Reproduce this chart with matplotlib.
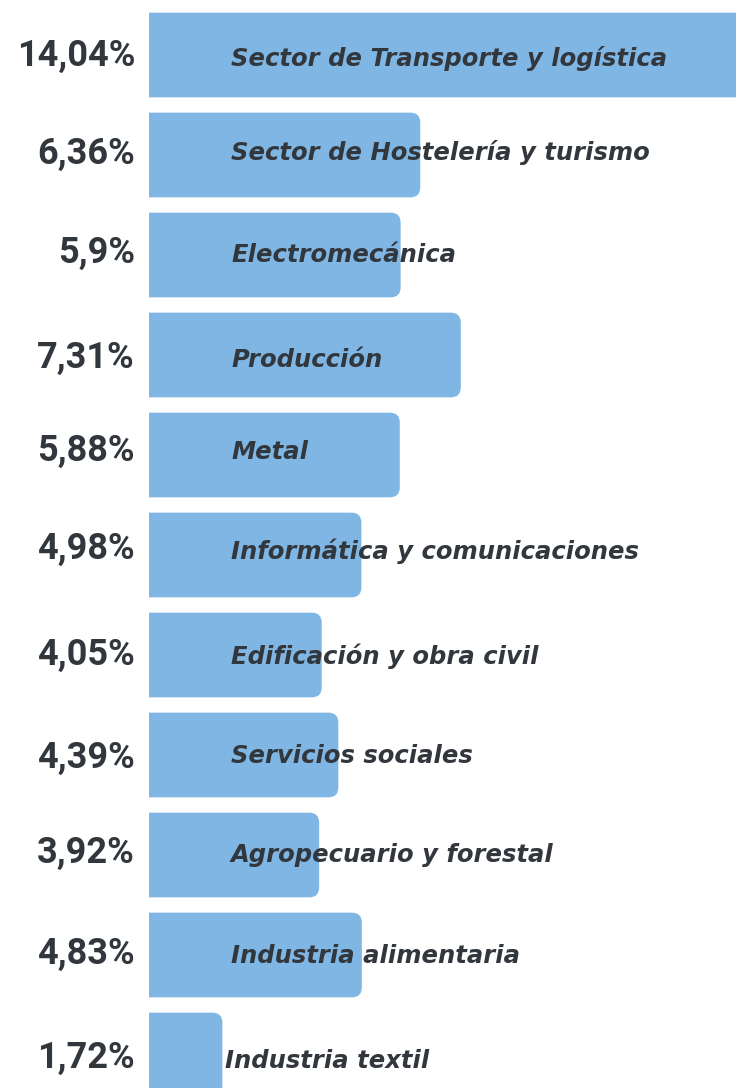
import matplotlib
matplotlib.use("Agg")
import matplotlib.pyplot as plt
from matplotlib.patches import FancyBboxPatch, Rectangle

# datos
sectores = [
    "Sector de Transporte y logística",
    "Sector de Hostelería y turismo",
    "Electromecánica",
    "Producción",
    "Metal",
    "Informática y comunicaciones",
    "Edificación y obra civil",
    "Servicios sociales",
    "Agropecuario y forestal",
    "Industria alimentaria",
    "Industria textil",
]
etiquetas = ["14,04%", "6,36%", "5,9%", "7,31%", "5,88%", "4,98%",
             "4,05%", "4,39%", "3,92%", "4,83%", "1,72%"]
# largo de cada barra tal como se ve en el grafico (no siempre igual a la etiqueta)
largos = [14.04, 6.36, 5.9, 7.31, 5.88, 4.98, 4.05, 4.44, 3.99, 4.99, 1.72]

# pequeños desfases verticales de los textos (px, linea base bajo el centro de la barra)
base_pct = [11, 9, 7.7, 13, 6, 4.3, 10, 12.7, 8.3, 9, 13.3]
base_txt = [11, 5, 7.3, 11.7, 4, 3.7, 9, 8.3, 7.3, 8.3, 13.3]

azul = "#7fb6e3"
gris = "#32373d"

fig = plt.figure(figsize=(7.36, 10.88), dpi=100)
ax = fig.add_axes([0, 0, 1, 1])
ax.set_axis_off()

# 42.65 px por punto porcentual, barras empiezan en x=149 px
esc = 42.65
ax.set_xlim(-149 / esc, (736 - 149) / esc)
ax.set_ylim((1088 - 55) / 100, -55 / 100)

pos = list(range(len(largos)))
bars = ax.barh(pos, largos, height=0.847, color="none")

rx = 10 / esc
ry = 10 / 100
for b in bars:
    x0, y0 = b.get_x(), b.get_y()
    w, h = b.get_width(), b.get_height()
    # caja redondeada que empieza antes de 0 y se recorta: esquinas rectas a la izquierda
    p = FancyBboxPatch((x0 - 2 * rx, y0), w + 2 * rx, h,
                       boxstyle=f"round,pad=0,rounding_size={rx}",
                       mutation_aspect=ry / rx,
                       facecolor=azul, edgecolor="none")
    ax.add_patch(p)
    clip = Rectangle((x0, y0 - 0.1), w + 1, h + 0.2, transform=ax.transData)
    p.set_clip_path(clip)

for i, (s, v, e) in enumerate(zip(sectores, largos, etiquetas)):
    ax.text(-14 / esc, i + base_pct[i] / 100, e, ha="right", va="baseline",
            fontsize=26, fontweight="bold", color=gris,
            family=["Roboto", "DejaVu Sans"])
    xt = 82 / esc if v > 2 else 76 / esc
    ax.text(xt, i + base_txt[i] / 100, s, ha="left", va="baseline",
            fontsize=17.5, fontweight="bold", fontstyle="italic", color=gris,
            family=["DejaVu Sans"])

fig.savefig("out.png", dpi=100)
